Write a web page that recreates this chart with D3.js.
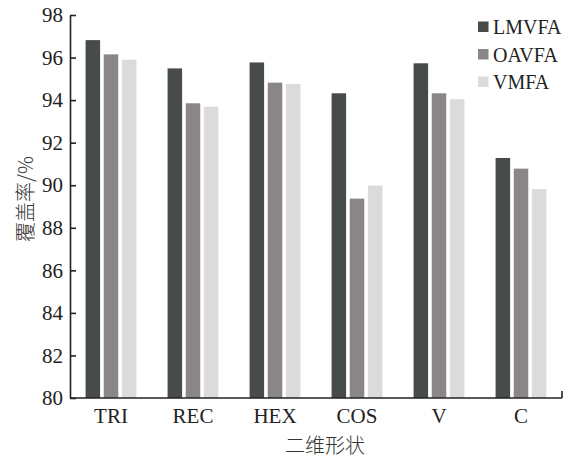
<!DOCTYPE html>
<html><head><meta charset="utf-8">
<script src="https://cdn.jsdelivr.net/npm/d3@7"></script>
<style>body{margin:0;background:#fff;} svg{display:block;}</style>
</head><body>
<script>
const categories = ["TRI","REC","HEX","COS","V","C"];
const seriesNames = ["LMVFA","OAVFA","VMFA"];
const lmvfa = [96.82, 95.49, 95.77, 94.32, 95.73, 91.28];
const oavfa = [96.15, 93.85, 94.82, 89.37, 94.32, 90.78];
const vmfa  = [95.90, 93.69, 94.76, 89.98, 94.04, 89.82];
const yTicks = [80,82,84,86,88,90,92,94,96,98];
const colors = ["#474b4a","#8a8686","#dcdbdb"];

(function(){
const series = [lmvfa, oavfa, vmfa];
const W = 566, H = 458;
const svg = d3.select("body").append("svg").attr("width", W).attr("height", H);
const mLeft = 70, mRight = 562, mTop = 15, mBottom = 398;
const serif = "'Liberation Serif','Times New Roman',serif";

const x0 = d3.scaleBand().domain(categories).range([mLeft, mRight]).paddingInner(0.38).paddingOuter(0.19);
const x1 = d3.scaleBand().domain(seriesNames).range([0, x0.bandwidth()]).paddingInner(0.2);
const y = d3.scaleLinear().domain([80, 98]).range([mBottom, mTop]);

// bars
const g = svg.append("g");
categories.forEach((c, i) => {
  seriesNames.forEach((s, j) => {
    g.append("rect")
      .attr("x", x0(c) + x1(s))
      .attr("y", y(series[j][i]))
      .attr("width", x1.bandwidth())
      .attr("height", y(80) - y(series[j][i]))
      .attr("fill", colors[j]);
  });
});

// y axis
const yAxis = d3.axisLeft(y).tickValues(yTicks).tickSizeInner(-6).tickSizeOuter(0).tickPadding(7);
const ya = svg.append("g").attr("transform", `translate(${mLeft},0)`).call(yAxis);
ya.select(".domain").attr("stroke", "#222").attr("stroke-width", 1.6);
ya.selectAll(".tick line").attr("stroke", "#222").attr("stroke-width", 1.6);
ya.selectAll(".tick text").attr("font-family", serif).attr("font-size", 21).attr("fill", "#222");

// x axis
const xAxis = d3.axisBottom(x0).tickSize(0).tickPadding(10);
const xa = svg.append("g").attr("transform", `translate(0,${mBottom})`).call(xAxis);
xa.select(".domain").remove();
xa.selectAll(".tick text").attr("font-family", serif).attr("font-size", 21).attr("fill", "#222");
svg.append("line").attr("x1", mLeft).attr("x2", mRight).attr("y1", mBottom).attr("y2", mBottom)
  .attr("stroke", "#222").attr("stroke-width", 1.6);
svg.append("line").attr("x1", mRight).attr("x2", mRight).attr("y1", mBottom).attr("y2", mBottom - 7)
  .attr("stroke", "#222").attr("stroke-width", 1.6);

// axis titles
svg.append("text").attr("x", 325).attr("y", 453).attr("text-anchor", "middle")
  .attr("font-family", "'Noto Sans CJK SC',sans-serif").attr("font-weight", 300)
  .attr("font-size", 20).attr("fill", "#333").text("二维形状");
svg.append("text").attr("transform", "translate(33,199) rotate(-90)").attr("text-anchor", "middle")
  .attr("font-family", "'Noto Sans CJK SC',sans-serif").attr("font-weight", 300)
  .attr("font-size", 20).attr("fill", "#333").text("覆盖率/%");

// legend
const lg = svg.append("g");
seriesNames.forEach((s, j) => {
  const cy = 27 + j * 27.5;
  lg.append("rect").attr("x", 478).attr("y", cy - 5.5).attr("width", 10.5).attr("height", 10.5).attr("fill", colors[j]);
  lg.append("text").attr("x", 493).attr("y", cy + 7).attr("font-family", serif)
    .attr("font-size", 20).attr("fill", "#222").text(s);
});
})();
</script>
</body></html>
